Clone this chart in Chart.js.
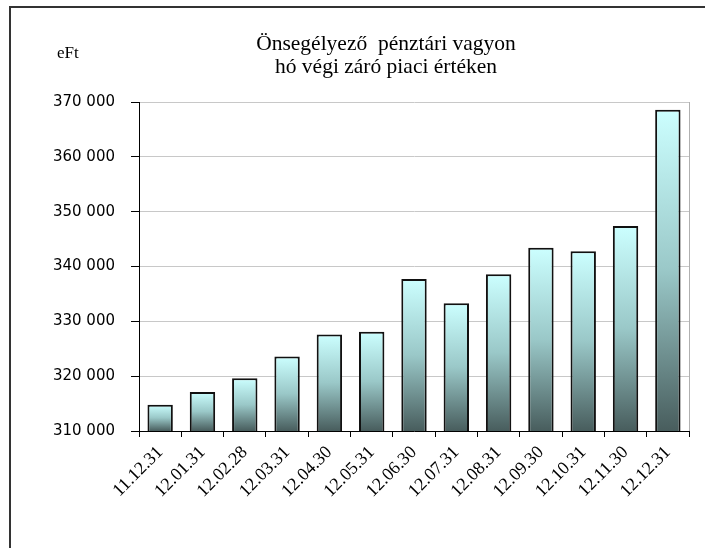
<!DOCTYPE html>
<html>
<head>
<meta charset="utf-8">
<script src="https://cdn.jsdelivr.net/npm/chart.js@4/dist/chart.umd.min.js"></script>
<style>
  html, body { margin: 0; padding: 0; background: #fff; overflow: hidden; }
  #wrap { position: relative; width: 705px; height: 548px; }
  #frame { position: absolute; left: 9px; top: 6px; width: 760px; height: 600px; border: 2px solid #333; box-sizing: border-box; pointer-events: none; }
  canvas { position: absolute; left: 0; top: 0; }
</style>
</head>
<body>
<div id="wrap">
  <div id="frame"></div>
  <canvas id="myChart" width="705" height="548"></canvas>
</div>
<script>
// adatok
const categories = ['11.12.31', '12.01.31', '12.02.28', '12.03.31', '12.04.30', '12.05.31', '12.06.30',
                    '12.07.31', '12.08.31', '12.09.30', '12.10.31', '12.11.30', '12.12.31'];
const vagyon = [314800, 317100, 319600, 323600, 327600, 328100, 337700,
                333300, 338600, 343400, 342800, 347400, 368600];
const title_lines = ['Önsegélyező  pénztári vagyon', 'hó végi záró piaci értéken'];
const unit_label = 'eFt';
const y_min = 310000, y_max = 370000, y_step = 10000;

// ezres tagolás szóközzel
function fmt(v) {
    return String(v).replace(/\B(?=(\d{3})+(?!\d))/g, ' ');
}

// oszloponkénti színátmenet (világos cián fent, sötét szürkészöld lent)
function barGradient(context) {
    const chart = context.chart;
    const area = chart.chartArea;
    if (!area || context.parsed == null) return '#9cc';
    const top = chart.scales.y.getPixelForValue(context.parsed.y);
    const g = chart.ctx.createLinearGradient(0, top, 0, area.bottom);
    g.addColorStop(0, '#ccffff');
    g.addColorStop(0.5, '#9ac8c8');
    g.addColorStop(1, '#485d5d');
    return g;
}

// cím, mértékegység, jobb oldali keretvonal
const extras = {
    id: 'extras',
    afterDraw(chart) {
        const ctx = chart.ctx;
        const a = chart.chartArea;
        ctx.save();
        ctx.strokeStyle = '#b0b0b0';
        ctx.lineWidth = 1;
        ctx.beginPath();
        ctx.moveTo(a.right + 0.5, a.top);
        ctx.lineTo(a.right + 0.5, a.bottom);
        ctx.stroke();

        ctx.fillStyle = '#000';
        ctx.textBaseline = 'middle';
        ctx.textAlign = 'center';
        ctx.font = '21.5px "Liberation Serif", serif';
        const cx = (a.left + a.right) / 2 - 28;
        title_lines.forEach((t, i) => ctx.fillText(t, cx, a.top - 58 + i * 23));

        ctx.textAlign = 'left';
        ctx.font = '17px "Liberation Serif", serif';
        ctx.fillText(unit_label, a.left - 82, a.top - 48);
        ctx.restore();
    }
};

const ctx = document.getElementById('myChart').getContext('2d');
const chart = new Chart(ctx, {
    type: 'bar',
    data: {
        labels: categories,
        datasets: [{
            data: vagyon,
            backgroundColor: barGradient,
            borderColor: '#111',
            borderWidth: 2,
            borderSkipped: false,
            barPercentage: 0.6,
            categoryPercentage: 1.0,
        }],
    },
    options: {
        responsive: false,
        animation: false,
        layout: { padding: { left: 10, right: 16, top: 102, bottom: 0 } },
        plugins: {
            legend: { display: false },
            tooltip: { enabled: false },
            title: { display: false },
        },
        scales: {
            x: {
                grid: { display: true, drawOnChartArea: false, color: '#000', tickLength: 6, offset: true },
                border: { color: '#000', width: 1 },
                ticks: {
                    color: '#000',
                    minRotation: 45, maxRotation: 45,
                    autoSkip: false,
                    padding: 5,
                    font: { family: '"Liberation Serif", serif', size: 18 },
                },
                afterFit(scale) { scale.height = 117; },
            },
            y: {
                min: y_min, max: y_max,
                grid: { color: '#c8c8c8', tickColor: '#000', tickLength: 8 },
                border: { color: '#000', width: 1 },
                ticks: {
                    stepSize: y_step,
                    color: '#000',
                    padding: 16,
                    font: { family: '"DejaVu Sans", sans-serif', size: 15 },
                    callback: (v) => fmt(v),
                },
                afterFit(scale) { scale.width = 129; },
            },
        },
    },
    plugins: [extras],
});
</script>
</body>
</html>
